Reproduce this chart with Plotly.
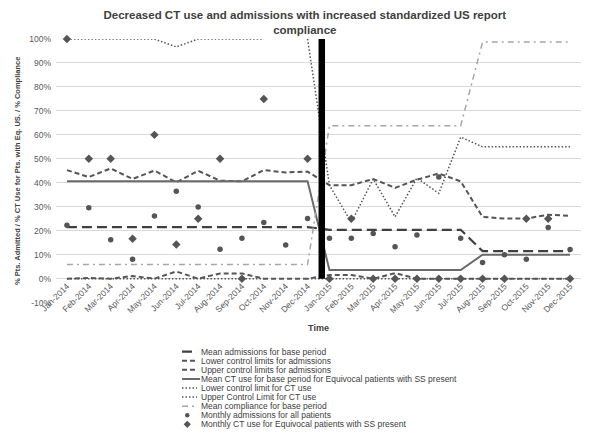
import plotly.graph_objects as go

# ---------------- data ----------------
months = ["Jan-2014", "Feb-2014", "Mar-2014", "Apr-2014", "May-2014", "Jun-2014",
          "Jul-2014", "Aug-2014", "Sep-2014", "Oct-2014", "Nov-2014", "Dec-2014",
          "Jan-2015", "Feb-2015", "Mar-2015", "Apr-2015", "May-2015", "Jun-2015",
          "Jul-2015", "Aug-2015", "Sep-2015", "Oct-2015", "Nov-2015", "Dec-2015"]

mean_admissions = [21.5, 21.5, 21.5, 21.5, 21.5, 21.5, 21.5, 21.5, 21.5, 21.5, 21.5, 21.5,
                   20.4, 20.4, 20.4, 20.4, 20.4, 20.4, 20.4, 11.5, 11.5, 11.5, 11.5, 11.5]
lower_admissions = [0, 0.3, 0, 1.1, 0, 3.0, 0, 2.2, 2.2, 0, 0, 0,
                    1.5, 1.5, 0, 2.3, 0, 0, 0, 0, 0, 0, 0, 0]
upper_admissions = [45.3, 42.4, 46.0, 41.6, 45.1, 40.2, 45.0, 40.9, 40.6, 45.3, 44.3, 44.7,
                    39.0, 39.0, 41.6, 37.9, 41.3, 43.9, 40.6, 25.8, 25.1, 25.1, 26.7, 26.2]
mean_ct = [40.7, 40.7, 40.7, 40.7, 40.7, 40.7, 40.7, 40.7, 40.7, 40.7, 40.7, 40.7,
           3.6, 3.6, 3.6, 3.6, 3.6, 3.6, 3.6, 10.0, 10.0, 10.0, 10.0, 10.0]
lower_ct = [0, 0, 0, 0, 0, 0, 0, 0, 0, 0, None, 0,
            0, 0, 0, 0, 0, 0, 0, 0, 0, 0, 0, 0]
upper_ct = [100, 100, 100, 100, 100, 96.7, 100, 100, 100, 100, None, 100,
            39.0, 23.5, 41.6, 25.8, 42.0, 35.6, 59.1, 55.0, 55.0, 55.0, 55.0, 55.0]
mean_compliance = [5.9, 5.9, 5.9, 5.9, 5.9, 5.9, 5.9, 5.9, 5.9, 5.9, 5.9, 5.9,
                   63.8, 63.8, 63.8, 63.8, 63.8, 63.8, 63.8, 98.7, 98.7, 98.7, 98.7, 98.7]
monthly_admissions = [22.3, 29.6, 16.2, 8.1, 26.1, 36.5, 29.9, 12.3, 16.9, 23.4, 14.1, 25.1,
                      16.9, 16.9, 18.8, 13.3, 18.2, 42.4, 16.9, 6.7, 10.0, 8.1, 21.4, 12.2]
monthly_ct = [100, 50, 50, 16.7, 60, 14.3, 25, 50, 0, 75, None, 50,
              0, 25, 0, 0, 0, 0, 0, 0, 0, 25, 25, 0]

intervention_pos = 11.65          # intervention (between Dec-2014 and Jan-2015)
intervention_span = [0, 100]

y_ticks = [-10, 0, 10, 20, 30, 40, 50, 60, 70, 80, 90, 100]

# ---------------- styling ----------------
FONT = "Liberation Sans, Arial, sans-serif"
TXT = "#595959"
DARK = "#404040"
W, H = 600, 445
ML, MR, MT, MB = 56, 19, 39, 8
PLOT_BOTTOM_PX = 306
Y_MIN, Y_MAX = -10, 100

paper_h = H - MT - MB
dom_bottom = (H - MB - PLOT_BOTTOM_PX) / paper_h
zero_pos = dom_bottom + (0 - Y_MIN) / (Y_MAX - Y_MIN) * (1 - dom_bottom)

x = list(range(len(months)))

line_series = [
    ("Mean admissions for base period", mean_admissions, DARK, 2.2, "10px,5px", 0.7),
    ("Lower control limits for admissions", lower_admissions, "#555555", 2, "5px,3px", 1.0),
    ("Upper control limits for admissions", upper_admissions, "#555555", 2, "5px,3px", 1.0),
    ("Mean CT use for base period for Equivocal patients with SS present", mean_ct, "#6a6a6a", 2, "solid", 1.2),
    ("Lower control limit for CT use", lower_ct, "#555555", 1.5, "1.5px,2px", 1.0),
    ("Upper Control Limit for CT use", upper_ct, "#555555", 1.5, "1.5px,2px", 1.0),
    ("Mean compliance for base period", mean_compliance, "#a6a6a6", 1.5, "6px,4px,2px,4px", 0.9),
]
marker_series = [
    ("Monthly admissions for all patients", monthly_admissions, "circle", 5.5),
    ("Monthly CT use for Equivocal patients with SS present", monthly_ct, "diamond", 6.5),
]
MARK_COLOR = "#555555"

fig = go.Figure()

for name, ys, color, width, dash, _ in line_series:
    fig.add_trace(go.Scatter(x=x, y=ys, mode="lines", name=name, showlegend=False,
                             line=dict(color=color, width=width, dash=dash),
                             connectgaps=False, cliponaxis=False))

fig.add_trace(go.Scatter(x=[intervention_pos, intervention_pos], y=intervention_span,
                         mode="lines", line=dict(color="black", width=6.5),
                         showlegend=False, hoverinfo="skip", cliponaxis=False))

for name, ys, symbol, size in marker_series:
    fig.add_trace(go.Scatter(x=x, y=ys, mode="markers", name=name, showlegend=False,
                             marker=dict(symbol=symbol, size=size, color=MARK_COLOR),
                             cliponaxis=False))

# ---------------- custom compact legend ----------------
LEG_LEFT_PX, SAMPLE_PX, LEG_RIGHT_PX = 182, 15, 480
legend_entries = [(s[0], "line", s) for s in line_series] + [(m[0], "marker", m) for m in marker_series]
annotations = []
for i, (name, kind, s) in enumerate(legend_entries):
    if kind == "line":
        _, _, color, width, dash, end = s
        fig.add_trace(go.Scatter(x=[0, end], y=[i, i], mode="lines", xaxis="x2", yaxis="y2",
                                 line=dict(color=color, width=width, dash=dash),
                                 showlegend=False, hoverinfo="skip", cliponaxis=False))
    else:
        _, _, symbol, size = s
        fig.add_trace(go.Scatter(x=[0.35], y=[i], mode="markers", xaxis="x2", yaxis="y2",
                                 marker=dict(symbol=symbol, size=size - 1, color=MARK_COLOR),
                                 showlegend=False, hoverinfo="skip", cliponaxis=False))
    annotations.append(dict(x=1.1, y=i, xref="x2", yref="y2", text=name, showarrow=False,
                            xanchor="left", yanchor="middle",
                            font=dict(family=FONT, size=8.5, color=DARK)))

LEG_TOP_PX, ROW_PX = 351, 9.2
leg_bot_px = LEG_TOP_PX + ROW_PX * len(legend_entries)
leg_dom = [(H - MB - leg_bot_px) / paper_h, (H - MB - LEG_TOP_PX) / paper_h]
plot_w = W - ML - MR
leg_xdom = [(LEG_LEFT_PX - ML) / plot_w, (LEG_RIGHT_PX - ML) / plot_w]
leg_xmax = (LEG_RIGHT_PX - LEG_LEFT_PX) / SAMPLE_PX

fig.update_layout(
    width=W, height=H,
    margin=dict(l=ML, r=MR, t=MT, b=MB),
    paper_bgcolor="white", plot_bgcolor="white",
    font=dict(family=FONT, size=9, color=TXT),
    title=dict(text="<b>Decreased CT use and admissions with increased standardized US report<br>compliance</b>",
               x=0.508, xanchor="center", y=0.958, yanchor="top",
               font=dict(family=FONT, size=11.5, color=DARK)),
    xaxis=dict(range=[-0.5, len(months) - 0.5], tickmode="array", tickvals=x, ticktext=months,
               tickangle=-45, showgrid=False, zeroline=False, showline=False, ticks="",
               anchor="free", position=zero_pos,
               tickfont=dict(family=FONT, size=8.5, color=TXT),
               title=dict(text="<b>Time</b>", standoff=10,
                          font=dict(family=FONT, size=9, color=DARK))),
    yaxis=dict(range=[Y_MIN, Y_MAX], domain=[dom_bottom, 1], tickmode="array", tickvals=y_ticks,
               ticktext=[f"{v}%" for v in y_ticks],
               showgrid=True, gridcolor="#d9d9d9", gridwidth=1, zeroline=False, showline=False,
               ticks="", ticklabelstandoff=4,
               tickfont=dict(family=FONT, size=8.5, color=TXT),
               title=dict(text="<b>% Pts. Admitted / % CT Use for Pts. with Eq. US. / % Compliance</b>",
                          standoff=7, font=dict(family=FONT, size=7.5, color=DARK))),
    xaxis2=dict(domain=leg_xdom, range=[0, leg_xmax], visible=False, anchor="y2", fixedrange=True),
    yaxis2=dict(domain=leg_dom, range=[len(legend_entries) - 0.5, -0.5], visible=False,
                anchor="x2", fixedrange=True),
    annotations=annotations,
    showlegend=False,
)

fig.write_html("out.html", include_plotlyjs=True,
               config={"displayModeBar": False},
               post_script="document.body.style.margin='0';")
